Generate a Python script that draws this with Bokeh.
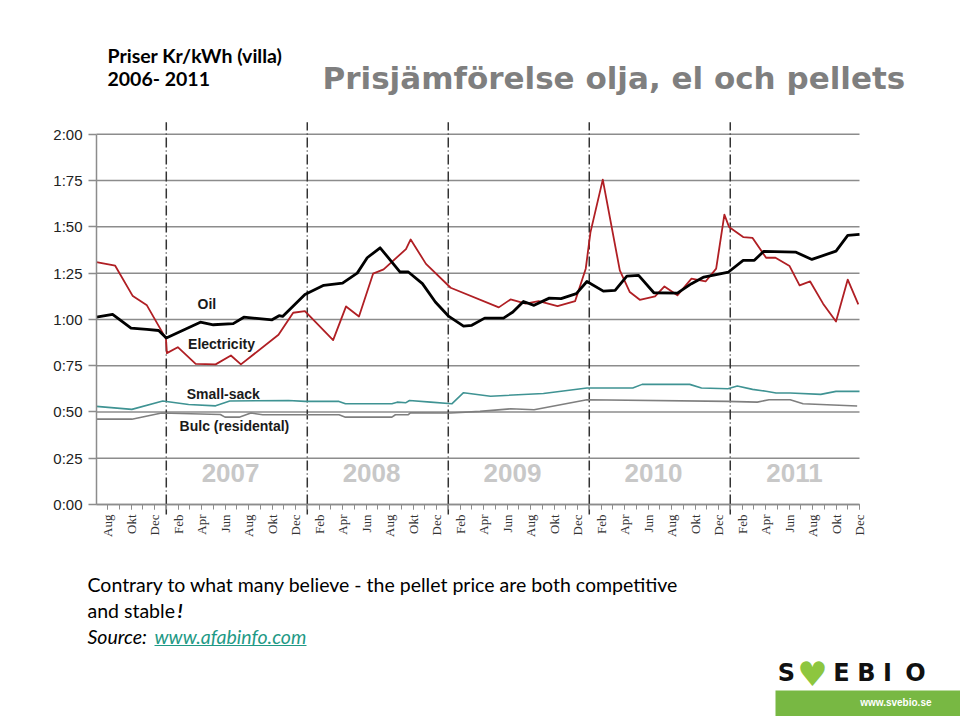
import math
from bokeh.plotting import figure
from bokeh.layouts import column
from bokeh.models import Range1d, FixedTicker, LinearAxis
from bokeh.core.properties import value
from bokeh.embed import file_html
from bokeh.resources import INLINE

# ---------------- data (x = months since Aug 2006, y = kr/kWh) ----------------
years = [2007, 2008, 2009, 2010, 2011]
month_cycle = ["Aug", "Okt", "Dec", "Feb", "Apr", "Jun"]
y_ticks = [0.0, 0.25, 0.5, 0.75, 1.0, 1.25, 1.5, 1.75, 2.0]
y_tick_labels = ["0:00", "0:25", "0:50", "0:75", "1:00", "1:25", "1:50", "1:75", "2:00"]

elec_x = [-0.95, 0.65, 2.15, 3.35, 4.97, 5.05, 5.98, 7.5, 9.2, 10.5, 11.35, 14.55, 15.8, 16.8,
          19.2, 20.3, 21.4, 22.6, 23.5, 25.4, 25.8, 27.1, 29.2, 33.3, 34.3, 35.6, 36.7, 38.3,
          39.8, 40.7, 41.1, 42.15, 43.6, 44.45, 45.3, 46.6, 47.4, 48.5, 49.7, 50.9, 51.8, 52.5,
          52.9, 54.1, 54.9, 56.05, 56.85, 58.05, 58.9, 59.8, 60.9, 62.0, 63.0, 63.9]
elec_y = [1.31, 1.29, 1.126, 1.076, 0.896, 0.818, 0.85, 0.76, 0.757, 0.805, 0.757, 0.917, 1.036, 1.045,
          0.888, 1.07, 1.016, 1.247, 1.27, 1.38, 1.432, 1.30, 1.171, 1.065, 1.108, 1.085, 1.099, 1.072,
          1.099, 1.274, 1.47, 1.755, 1.265, 1.148, 1.106, 1.124, 1.178, 1.13, 1.22, 1.205, 1.274, 1.566,
          1.499, 1.445, 1.44, 1.333, 1.333, 1.288, 1.184, 1.205, 1.085, 0.989, 1.215, 1.081]

oil_x = [-0.95, 0.43, 2.0, 3.35, 4.35, 5.0, 7.9, 9.0, 10.7, 11.6, 14.0, 14.6, 14.9, 16.8, 18.4,
         20.0, 21.25, 22.1, 23.2, 24.9, 25.6, 26.8, 27.9, 29.05, 30.3, 31.0, 32.1, 33.7, 34.5,
         35.4, 36.3, 37.6, 38.6, 39.9, 40.8, 42.2, 43.2, 44.2, 45.2, 46.5, 48.5, 49.7, 50.75,
         51.7, 52.85, 54.1, 55.05, 55.85, 58.55, 59.95, 62.0, 63.0, 64.0]
oil_y = [1.012, 1.027, 0.953, 0.946, 0.94, 0.90, 0.985, 0.971, 0.977, 1.012, 0.998, 1.02, 1.016, 1.135, 1.184,
         1.196, 1.25, 1.333, 1.387, 1.256, 1.256, 1.193, 1.094, 1.016, 0.964, 0.968, 1.007, 1.007, 1.04,
         1.097, 1.076, 1.115, 1.112, 1.139, 1.205, 1.153, 1.157, 1.234, 1.238, 1.144, 1.142, 1.193, 1.229,
         1.241, 1.256, 1.319, 1.319, 1.368, 1.364, 1.324, 1.369, 1.454, 1.459]

sack_x = [-0.95, 2.07, 4.7, 6.9, 9.2, 10.4, 15.4, 16.8, 19.7, 20.25, 24.2, 24.65, 25.4, 25.7, 27.5,
          29.3, 30.3, 32.6, 37.1, 40.8, 44.7, 45.5, 49.55, 50.55, 52.8, 53.6, 54.9, 56.05, 56.9,
          58.1, 60.7, 62.0, 64.0]
sack_y = [0.53, 0.514, 0.559, 0.54, 0.533, 0.559, 0.562, 0.557, 0.557, 0.544, 0.544, 0.553, 0.55, 0.562, 0.553,
          0.544, 0.604, 0.585, 0.60, 0.629, 0.629, 0.649, 0.649, 0.629, 0.625, 0.64, 0.622, 0.612, 0.602,
          0.602, 0.595, 0.611, 0.611]

bulk_x = [-0.95, 2.07, 4.6, 9.6, 10.0, 11.2, 12.2, 13.2, 19.7, 20.25, 24.2, 24.5, 25.6, 25.8, 29.2,
          31.7, 34.3, 36.3, 40.8, 52.7, 55.3, 56.3, 58.1, 59.2, 63.8]
bulk_y = [0.461, 0.461, 0.494, 0.486, 0.472, 0.472, 0.494, 0.485, 0.485, 0.472, 0.472, 0.485, 0.485, 0.496, 0.494,
          0.503, 0.517, 0.512, 0.566, 0.557, 0.553, 0.566, 0.566, 0.544, 0.532]

# ---------------- derived tick positions ----------------
year_starts = [(y - 2007) * 12 + 5 for y in years]
label_months = list(range(0, 65, 2))
month_labels = [month_cycle[i % 6] for i in range(len(label_months))]
all_months = list(range(0, 65))

GRID = "#8c8c8c"
SANS = "Liberation Sans"
W = 960
LEFT = 30                  # shared frame left edge (pixels) for all three panels
AXIS_PX = 96               # where the value axis sits
PX_PER_MONTH = 763 / 64.94
X0, XDATA_END = -0.94, 64.0          # x at the value axis, last month
XR0 = X0 - (AXIS_PX - LEFT) / PX_PER_MONTH
XR1 = X0 + (W - AXIS_PX) / PX_PER_MONTH

ZERO_PX, TOP_PX = 504, 119
PX_PER_UNIT = (ZERO_PX - TOP_PX) / 2.08
FRAME_BOTTOM = 537
YR0 = -(FRAME_BOTTOM - ZERO_PX) / PX_PER_UNIT

HEAD_H = 110
CHART_END = 571
CHART_H = CHART_END - HEAD_H
FOOT_H = 716 - CHART_END


def panel(height, y_top):
    return figure(width=W, height=height, x_range=Range1d(LEFT, W), y_range=Range1d(y_top + height, y_top),
                  output_backend="svg", toolbar_location=None, x_axis_type=None, y_axis_type=None,
                  min_border_left=LEFT, min_border_right=0, min_border_top=0, min_border_bottom=0,
                  outline_line_color=None)


# ---------------- header ----------------
header = panel(HEAD_H, 0)
header.text(x=[107, 107], y=[55, 78], text=["Priser Kr/kWh (villa)", "2006- 2011"],
            text_font=value("Lato"), text_font_style="bold", text_font_size="19.5px",
            text_color="black", text_align="left", text_baseline="middle")
header.text(x=[322], y=[77], text=["Prisjämförelse olja, el och pellets"],
            text_font=value("DejaVu Sans"), text_font_style="bold", text_font_size="31px",
            text_color="#7f7f7f", text_align="left", text_baseline="middle")

# ---------------- chart ----------------
chart = figure(width=W, height=CHART_H, x_range=Range1d(XR0, XR1), y_range=Range1d(YR0, 2.08),
               output_backend="svg", toolbar_location=None, x_axis_type=None, y_axis_type=None,
               min_border_left=LEFT, min_border_right=0, min_border_top=TOP_PX - HEAD_H,
               min_border_bottom=CHART_END - FRAME_BOTTOM, outline_line_color=None)

# horizontal grid lines (span only the dated part of the chart)
chart.segment(x0=[X0] * len(y_ticks), y0=y_ticks, x1=[XDATA_END] * len(y_ticks), y1=y_ticks,
              line_color=GRID, line_width=1.5)

yaxis = LinearAxis(ticker=FixedTicker(ticks=y_ticks), bounds=(0, 2.0), fixed_location=X0,
                   major_label_overrides={t: l for t, l in zip(y_ticks, y_tick_labels)},
                   axis_line_color=GRID, axis_line_width=1.5,
                   major_tick_out=8, major_tick_in=0, major_tick_line_color=GRID, major_tick_line_width=1.5,
                   minor_tick_line_color=None, major_label_standoff=6,
                   major_label_text_font=SANS, major_label_text_font_size="15px",
                   major_label_text_color="#222222")
chart.add_layout(yaxis, "left")

xaxis = LinearAxis(ticker=FixedTicker(ticks=label_months, minor_ticks=all_months),
                   fixed_location=0, bounds=(X0, XDATA_END),
                   axis_line_color=GRID, axis_line_width=1.5,
                   major_tick_out=5, major_tick_in=0, major_tick_line_color=GRID, major_tick_line_width=1,
                   minor_tick_out=5, minor_tick_in=0, minor_tick_line_color=GRID, minor_tick_line_width=1,
                   major_label_overrides={t: l for t, l in zip(label_months, month_labels)},
                   major_label_orientation=math.pi / 2, major_label_standoff=5,
                   major_label_text_font="Liberation Serif", major_label_text_font_size="13px",
                   major_label_text_color="#333333")
chart.add_layout(xaxis, "below")

# year separators: dash-dot line above the axis, long solid tick below it
chart.segment(x0=year_starts, y0=[0] * len(year_starts), x1=year_starts, y1=[2.065] * len(year_starts),
              line_color="#333333", line_width=1.5, line_dash="10 3 1 3")
chart.segment(x0=year_starts, y0=[0] * len(year_starts), x1=year_starts,
              y1=[-10 / PX_PER_UNIT] * len(year_starts), line_color="#333333", line_width=1.5)

chart.line(bulk_x, bulk_y, line_color="#7f7f7f", line_width=1.6)
chart.line(sack_x, sack_y, line_color="#3f9393", line_width=1.6)
chart.line(elec_x, elec_y, line_color="#b01f24", line_width=1.8, line_join="round")
chart.line(oil_x, oil_y, line_color="black", line_width=2.8, line_join="round")

chart.text(x=[8.45, 9.7, 9.85, 10.8], y=[1.083, 0.868, 0.597, 0.425],
           text=["Oil", "Electricity", "Small-sack", "Bulc (residental)"],
           text_font=value(SANS), text_font_style="bold", text_font_size="14px",
           text_color="#1a1a1a", text_align="center", text_baseline="middle")

chart.text(x=[s + 5.47 for s in year_starts], y=[0.168] * len(years), text=[str(y) for y in years],
           text_font=value(SANS), text_font_style="bold", text_font_size="26px",
           text_color="#c8c8c8", text_align="center", text_baseline="middle")

# ---------------- footer ----------------
footer = panel(FOOT_H, CHART_END)
footer.text(x=[87, 87], y=[584, 610],
            text=["Contrary to what many believe - the pellet price are both competitive", "and stable"],
            text_font=value("Lato"), text_font_size="19.5px", text_color="black",
            text_align="left", text_baseline="middle")
footer.text(x=[177], y=[610], text=["!"], text_font=value("Lato"), text_font_style="bold italic",
            text_font_size="19.5px", text_color="black", text_align="left", text_baseline="middle")
footer.text(x=[87], y=[636], text=["Source:"], text_font=value("Lato"), text_font_style="italic",
            text_font_size="19.5px", text_color="black", text_align="left", text_baseline="middle")
footer.text(x=[154], y=[636], text=["www.afabinfo.com"], text_font=value("Lato"), text_font_style="italic",
            text_font_size="19.5px", text_color="#1f9a86", text_align="left", text_baseline="middle")
footer.segment(x0=[154], y0=[645], x1=[306], y1=[645], line_color="#1f9a86", line_width=1)

# logo
footer.quad(left=[775], right=[W], top=[690], bottom=[716], fill_color="#78b843", line_color=None)
footer.text(x=[786, 841, 866, 887, 915], y=[672] * 5, text=["S", "E", "B", "I", "O"],
            text_font=value("DejaVu Sans"), text_font_style="bold", text_font_size="24px",
            text_color="#111111", text_align="center", text_baseline="middle")
footer.text(x=[812], y=[673], text=["♥"], text_font=value("DejaVu Sans"), text_font_size="34px",
            text_color="#8dc63f", text_align="center", text_baseline="middle")
footer.text(x=[931], y=[702], text=["www.svebio.se"], text_font=value(SANS), text_font_style="bold",
            text_font_size="10px", text_color="white", text_align="right", text_baseline="middle")

layout = column(header, chart, footer, spacing=0)
open("out.html", "w").write(file_html(layout, INLINE))
